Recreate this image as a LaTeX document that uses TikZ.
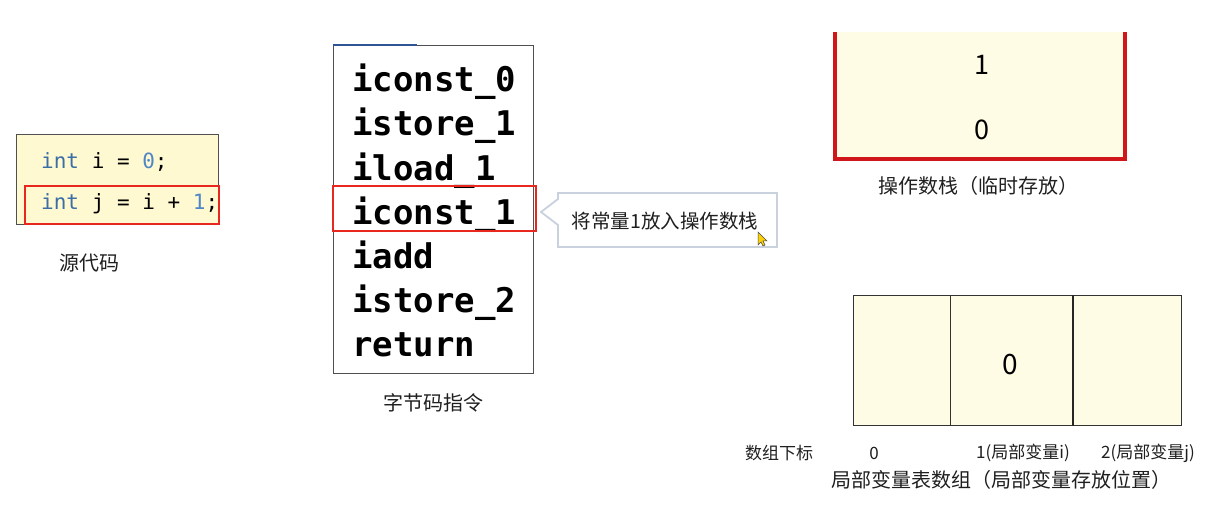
\documentclass[tikz,border=0pt]{standalone}
\usepackage{fontspec}
\setmainfont{Noto Sans CJK SC}
\newfontfamily\codefont{DejaVu Sans Mono}
\definecolor{codebg}{HTML}{FFF9D2}
\definecolor{cellbg}{HTML}{FFFCE6}
\definecolor{kw}{HTML}{3A6EA5}
\definecolor{num}{HTML}{4F86C6}
\definecolor{hl}{HTML}{E8281E}
\definecolor{stackred}{HTML}{D0161A}
\definecolor{callborder}{HTML}{C9D1DD}
\definecolor{framegray}{HTML}{505050}
\definecolor{topblue}{HTML}{2F5597}
\begin{document}
\begin{tikzpicture}[x=1pt,y=-1pt,
  lbl/.style={inner sep=0pt, text=black!88, font=\fontsize{#1}{#1}\selectfont},
  lbl/.default=20,
  codeline/.style={inner sep=0pt, anchor=base west, font=\codefont\fontsize{21}{21}\selectfont},
  bcline/.style={inner sep=0pt, anchor=base west, font=\codefont\bfseries\fontsize{34}{34}\selectfont},
  hlbox/.style={draw=hl, line width=1.8pt, inner sep=0pt, anchor=north west},
  boxnode/.style={inner sep=0pt, anchor=north west, minimum width=#1},
  cell/.style={draw=black!80, line width=1.2pt, fill=cellbg, inner sep=0pt, anchor=north west, minimum height=130pt},
  digit/.style={inner sep=0pt, font=\fontsize{#1}{#1}\selectfont},
  digit/.default=27
]
\useasboundingbox (0,0) rectangle (1219,510);

% ---------- source code ----------
\node[draw=framegray, fill=codebg, line width=1.2pt, boxnode=202pt, minimum height=90pt] (src) at (16,134) {};
\node[hlbox, minimum width=194pt, minimum height=38pt] (srchl) at (24,185) {};
\node[codeline] (l1) at (41,169) {{\color{kw}int} i = {\color{num}0};};
\node[codeline] (l2) at (41,210) {{\color{kw}int} j = i + {\color{num}1};};
\node[lbl] (srclbl) at (89,263) {源代码};

% ---------- bytecode ----------
\node[draw=framegray, line width=1.2pt, boxnode=200pt, minimum height=328pt] (bc) at (333,45) {};
\draw[topblue, line width=1.6pt] (bc.north west) -- ([xshift=84pt]bc.north west) coordinate (bctop);
\node[bcline] (b1) at (352,92)  {iconst\_0};
\node[bcline] (b2) at (352,136) {istore\_1};
\node[bcline] (b3) at (352,181) {iload\_1};
\node[bcline] (b4) at (352,225) {iconst\_1};
\node[bcline] (b5) at (352,269) {iadd};
\node[bcline] (b6) at (352,313) {istore\_2};
\node[bcline] (b7) at (352,357) {return};
\node[hlbox, minimum width=203pt, minimum height=45pt] (bchl) at (332,185) {};
\node[lbl] (bclbl) at (433,403) {字节码指令};

% ---------- callout ----------
\draw[callborder, line width=1.8pt, fill=white, line join=miter]
  (558,193) -- (777,193) -- (777,247) -- (558,247) -- (558,225) -- (541,212) -- (558,199) -- cycle;
\node[lbl=19.5, anchor=center] (call) at (665,221) {将常量1放入操作数栈};
\fill[yellow!70!orange, draw=black!70, line width=0.5pt]
  (758,232) -- (758,245) -- (761,242) -- (763,246) -- (765,245) -- (763,241) -- (767,241) -- cycle;

% ---------- operand stack ----------
\node[fill=cellbg, inner sep=0pt, anchor=north west, minimum width=290pt, minimum height=127pt] (stack) at (835,32) {};
\draw[stackred, line width=4pt] (stack.north west) -- (stack.south west) -- (stack.south east) -- (stack.north east);
\node[digit] (s1) at (982,65) {1};
\node[digit] (s0) at (982,130) {0};
\node[lbl] (stacklbl) at (978,186) {操作数栈（临时存放）};

% ---------- local variable table ----------
\node[cell, minimum width=97pt] (c0) at (853,295) {};
\node[cell, minimum width=123pt] (c1) at (950,295) {};
\node[cell, minimum width=108pt] (c2) at (1073,295) {};
\draw[black!85, line width=2pt] (c2.north west) -- (c2.south west);
\node[digit=28] (v1) at (1010,365) {0};
\node[lbl=17] (idx) at (779,453) {数组下标};
\node[lbl=17] (i0) at (874,453) {0};
\node[lbl=17] (i1) at (1023,453) {1(局部变量i)};
\node[lbl=17] (i2) at (1148,453) {2(局部变量j)};
\node[lbl] (tbllbl) at (1001,480) {局部变量表数组（局部变量存放位置）};
\end{tikzpicture}
\end{document}
